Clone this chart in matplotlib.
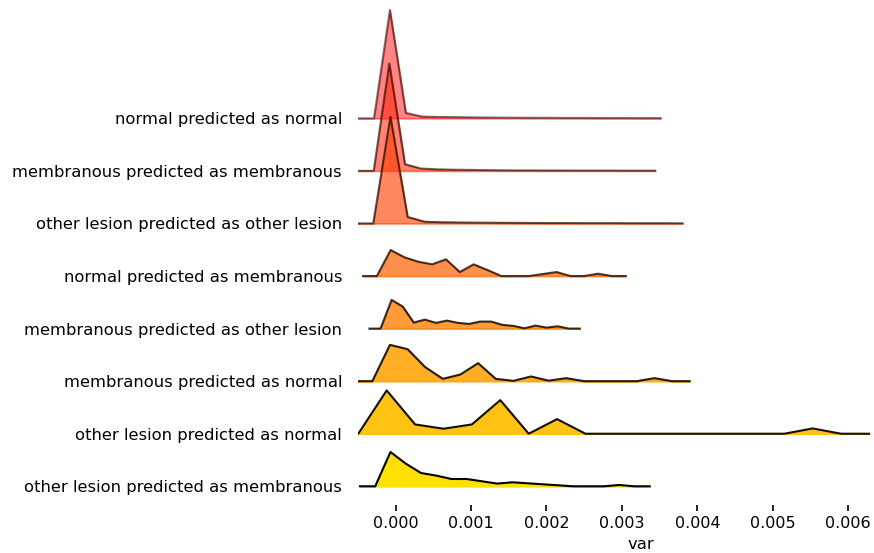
import numpy as np
import matplotlib
matplotlib.use("Agg")
import matplotlib.pyplot as plt
from matplotlib import cm

# ---- data ----
labels = [
    "normal predicted as normal",
    "membranous predicted as membranous",
    "other lesion predicted as other lesion",
    "normal predicted as membranous",
    "membranous predicted as other lesion",
    "membranous predicted as normal",
    "other lesion predicted as normal",
    "other lesion predicted as membranous",
]

# evaluation range (min, max of var) for each ridge
x_min = [-0.000499, -0.000499, -0.000525, -0.000433, -0.000347, -0.000543, -0.000872, -0.000473]
x_max = [0.003514, 0.003441, 0.003804, 0.003050, 0.002441, 0.003898, 0.006282, 0.003368]

# density estimates (relative units) on each ridge's grid
dens_1 = [0, 0, 108.3, 5.5, 1.8, 1.4, 1.2, 1.0, 0.8, 0.7, 0.6, 0.5, 0.5, 0.4, 0.4, 0.3, 0.3, 0.3, 0.2, 0.2]
dens_2 = [0, 0, 107.4, 6.7, 2.4, 1.6, 1.2, 1.0, 0.8, 0.6, 0.5, 0.5, 0.4, 0.4, 0.3, 0.3, 0.3, 0.2, 0.2, 0.2]
dens_3 = [0, 0, 106.7, 6.5, 1.7, 1.2, 1.0, 0.8, 0.7, 0.6, 0.5, 0.4, 0.4, 0.3, 0.3, 0.3, 0.2, 0.2, 0.2, 0.1]
dens_4 = [0, 0, 26.0, 18.7, 14.3, 11.7, 16.7, 4.0, 11.7, 6.0, 0, 0, 0, 2.0, 4.0, 0, 0, 2.3, 0, 0]
dens_5 = [0, 0, 28.7, 22.0, 6.0, 9.0, 5.7, 8.0, 5.7, 4.7, 7.0, 7.0, 3.7, 2.7, 0.3, 3.0, 1.0, 2.3, 0, 0]
dens_6 = [0, 0, 36.3, 32.0, 14.0, 2.3, 6.7, 18.0, 2.3, 0.3, 4.7, 0.5, 3.0, 0, 0, 0, 0, 3.0, 0, 0]
dens_7 = [0, 0, 43.3, 9.3, 5.0, 9.3, 33.6, 0, 14.6, 0, 0, 0, 0, 0, 0, 0, 0, 5.3, 0, 0]
dens_8 = [0, 0, 34.3, 22.7, 13.3, 10.7, 7.3, 7.3, 5.0, 2.7, 4.0, 3.0, 2.0, 1.0, 0, 0, 0, 1.3, 0, 0]
densities = [dens_1, dens_2, dens_3, dens_4, dens_5, dens_6, dens_7, dens_8]

xticks = [0.000, 0.001, 0.002, 0.003, 0.004, 0.005, 0.006]

# ---- plot ----
W, H = 874, 553
fig = plt.figure(figsize=(W / 100, H / 100), dpi=100)
ax_left, ax_right, ax_top, ax_bottom = 358, 870, 8, 505
ax = fig.add_axes([ax_left / W, 1 - ax_bottom / H, (ax_right - ax_left) / W, (ax_bottom - ax_top) / H])

n = len(labels)
row_px = 52.57          # vertical distance between ridges (pixels)
scale = 1.0 / row_px    # density units -> row units
cmap = matplotlib.colormaps["autumn"]

baselines = []
for i, (lab, d) in enumerate(zip(labels, densities)):
    base = n - 1 - i
    baselines.append(base)
    x = np.linspace(x_min[i], x_max[i], len(d))
    y = base + np.array(d) * scale
    color = cmap(i / n)
    alpha = 0.4 + (1 + i) * 0.6 / n
    ax.fill_between(x, base, y, color=color, alpha=alpha, lw=1.2, zorder=2 + 2 * i)
    ax.plot(x, y, color="k", alpha=alpha, lw=1.5, zorder=3 + 2 * i)

ylim_bottom = -(ax_bottom - 486.3) / row_px
ylim_top = (n - 1) + (118.3 - ax_top) / row_px
ax.set_ylim(ylim_bottom, ylim_top)
ax.set_xlim(-0.000499, 0.006289)

ax.set_yticks(baselines)
ax.set_yticklabels(labels, fontsize=11.8)
ax.tick_params(axis="y", length=0, pad=11.5)
ax.set_xticks(xticks)
ax.set_xticklabels([f"{t:.3f}" for t in xticks], fontsize=11.5)
ax.tick_params(axis="x", length=4, width=1.2, pad=4)
ax.set_xlabel("var", fontsize=11.8, x=(641 - ax_left) / (ax_right - ax_left))

for s in ax.spines.values():
    s.set_visible(False)
ax.patch.set_alpha(0)

fig.savefig("out.png", dpi=100)
